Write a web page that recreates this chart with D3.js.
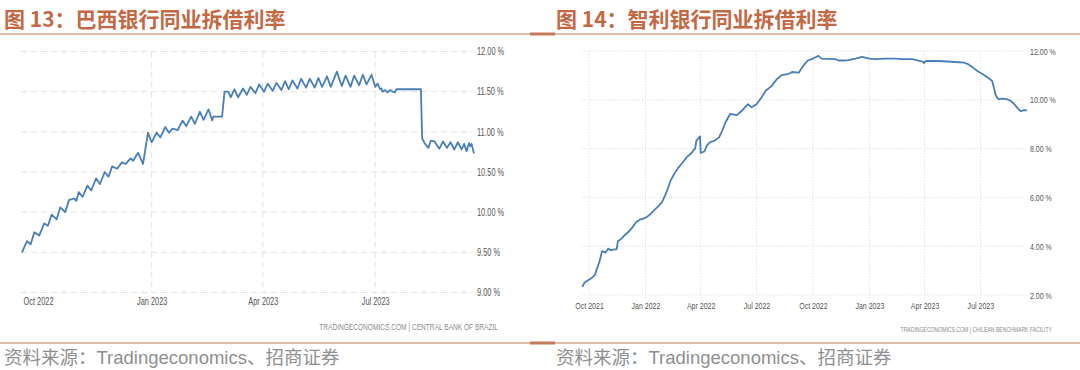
<!DOCTYPE html>
<html>
<head>
<meta charset="utf-8">
<script src="https://cdn.jsdelivr.net/npm/d3@7"></script>
<style>
  body { margin: 0; background: #fff; }
  svg text { font-family: "Liberation Sans", Arial, sans-serif; }
</style>
</head>
<body>
<svg id="chart" width="1080" height="370"></svg>
<script>
// ---- data: Brazil interbank rate (%)
var brDates = ["2022-09-18","2022-09-22","2022-09-25","2022-09-28","2022-10-02","2022-10-06","2022-10-09","2022-10-12",
  "2022-10-16","2022-10-19","2022-10-23","2022-10-26","2022-10-30","2022-11-01","2022-11-03","2022-11-06","2022-11-10",
  "2022-11-13","2022-11-17","2022-11-20","2022-11-24","2022-11-27","2022-11-30","2022-12-04","2022-12-08","2022-12-11",
  "2022-12-15","2022-12-17","2022-12-21","2022-12-25","2022-12-29","2023-01-01","2023-01-05","2023-01-08","2023-01-12",
  "2023-01-15","2023-01-18","2023-01-22","2023-01-26","2023-01-29","2023-02-02","2023-02-05","2023-02-09","2023-02-12",
  "2023-02-16","2023-02-19","2023-02-20","2023-02-27","2023-03-01","2023-03-04","2023-03-06","2023-03-09","2023-03-12",
  "2023-03-16","2023-03-19","2023-03-22","2023-03-26","2023-03-29","2023-04-02","2023-04-05","2023-04-09","2023-04-12",
  "2023-04-16","2023-04-19","2023-04-22","2023-04-25","2023-04-29","2023-05-02","2023-05-06","2023-05-09","2023-05-13",
  "2023-05-16","2023-05-19","2023-05-23","2023-05-26","2023-05-31","2023-06-01","2023-06-04","2023-06-07","2023-06-11",
  "2023-06-14","2023-06-18","2023-06-21","2023-06-24","2023-06-28","2023-07-01","2023-07-03","2023-07-05","2023-07-06",
  "2023-07-07","2023-07-09","2023-07-11","2023-07-13","2023-07-14","2023-07-17","2023-07-18","2023-08-07","2023-08-08",
  "2023-08-10","2023-08-13","2023-08-15","2023-08-18","2023-08-22","2023-08-25","2023-08-28","2023-08-31","2023-09-03",
  "2023-09-06","2023-09-09","2023-09-11","2023-09-13","2023-09-15","2023-09-16","2023-09-17","2023-09-19"];
var brValues = [9.50,9.64,9.60,9.75,9.71,9.86,9.83,9.97,
  9.91,10.06,10.00,10.15,10.17,10.14,10.25,10.19,10.33,
  10.27,10.42,10.35,10.50,10.44,10.57,10.54,10.62,10.60,
  10.67,10.64,10.74,10.60,10.99,10.87,10.99,10.93,11.06,
  10.99,11.04,11.02,11.14,11.07,11.19,11.10,11.25,11.15,
  11.28,11.14,11.19,11.19,11.50,11.50,11.43,11.53,11.43,
  11.54,11.46,11.56,11.48,11.59,11.50,11.60,11.51,11.61,
  11.52,11.63,11.53,11.64,11.54,11.66,11.55,11.66,11.55,
  11.67,11.56,11.69,11.56,11.75,11.70,11.57,11.70,11.56,
  11.70,11.58,11.71,11.59,11.71,11.56,11.60,11.53,11.54,
  11.50,11.52,11.49,11.52,11.51,11.49,11.53,11.53,10.92,
  10.86,10.80,10.89,10.88,10.79,10.88,10.80,10.87,10.78,
  10.87,10.78,10.85,10.76,10.86,10.82,10.85,10.73];
var brYTicks = [9, 9.5, 10, 10.5, 11, 11.5, 12];
var brXTicks = ["2022-10-01","2023-01-01","2023-04-01","2023-07-01"];
var brXLabels = ["Oct 2022","Jan 2023","Apr 2023","Jul 2023"];

// ---- data: Chile interbank rate (%)
var clDates = ["2021-09-20","2021-09-24","2021-09-30","2021-10-06","2021-10-11","2021-10-13","2021-10-17","2021-10-20",
  "2021-10-22","2021-10-28","2021-11-01","2021-11-05","2021-11-15","2021-11-17","2021-11-23","2021-11-28","2021-12-04",
  "2021-12-10","2021-12-17","2021-12-24","2022-01-01","2022-01-08","2022-01-15","2022-01-22","2022-01-28","2022-02-02",
  "2022-02-06","2022-02-11","2022-02-17","2022-02-23","2022-03-02","2022-03-09","2022-03-17","2022-03-23","2022-03-25",
  "2022-03-31","2022-04-01","2022-04-07","2022-04-11","2022-04-16","2022-04-24","2022-05-01","2022-05-06","2022-05-12",
  "2022-05-19","2022-05-30","2022-06-07","2022-06-17","2022-06-23","2022-07-01","2022-07-09","2022-07-16","2022-07-26",
  "2022-08-03","2022-08-11","2022-08-21","2022-08-28","2022-09-08","2022-09-13","2022-09-22","2022-10-01","2022-10-10",
  "2022-10-15","2022-11-06","2022-11-12","2022-11-20","2022-11-28","2022-12-09","2022-12-20","2023-01-01","2023-01-11",
  "2023-01-27","2023-02-12","2023-02-23","2023-03-12","2023-03-30","2023-03-31","2023-04-03","2023-04-25","2023-05-20",
  "2023-06-05","2023-06-11","2023-06-19","2023-06-26","2023-07-05","2023-07-13","2023-07-20","2023-07-23","2023-07-26",
  "2023-07-30","2023-08-06","2023-08-13","2023-08-19","2023-08-24","2023-08-30","2023-09-05","2023-09-10","2023-09-15"];
var clValues = [2.34,2.52,2.61,2.71,2.84,3.02,3.29,3.56,
  3.80,3.74,3.90,3.84,3.88,4.20,4.31,4.45,4.58,
  4.75,4.99,5.10,5.16,5.29,5.47,5.64,5.81,6.08,
  6.33,6.69,6.97,7.20,7.41,7.64,7.82,8.01,8.33,
  8.50,7.82,7.88,8.12,8.26,8.33,8.46,8.73,9.10,
  9.42,9.37,9.55,9.82,9.69,9.82,10.09,10.37,10.57,
  10.84,11.01,11.05,11.14,11.11,11.32,11.60,11.69,11.80,
  11.69,11.67,11.61,11.61,11.63,11.69,11.76,11.69,11.67,
  11.69,11.69,11.67,11.67,11.55,11.50,11.59,11.59,11.55,
  11.52,11.46,11.32,11.18,11.05,10.91,10.78,10.50,10.19,
  10.03,10.05,10.03,9.96,9.86,9.68,9.53,9.58,9.57];
var clYTicks = [2, 4, 6, 8, 10, 12];
var clXTicks = ["2021-10-01","2022-01-01","2022-04-01","2022-07-01","2022-10-01","2023-01-01","2023-04-01","2023-07-01"];
var clXLabels = ["Oct 2021","Jan 2022","Apr 2022","Jul 2022","Oct 2022","Jan 2023","Apr 2023","Jul 2023"];

var parse = d3.timeParse("%Y-%m-%d");
var svg = d3.select("#chart");
var titleColor = "#c36843", ruleColor = "#c57b58", lineColor = "#4a7fb5";

function drawPanel(p) {
  var g = svg.append("g");

  // heading and rules
  g.append("text").attr("x", p.titleX).attr("y", 27)
    .style("font-family", "'Noto Sans CJK SC', sans-serif")
    .style("font-size", "21px").style("font-weight", "bold")
    .attr("fill", titleColor).text(p.title);
  [34, 343].forEach(function (yy) {
    g.append("line").attr("x1", p.colL).attr("x2", p.colR).attr("y1", yy).attr("y2", yy)
      .attr("stroke", ruleColor).attr("stroke-width", 1.2);
    g.append("line").attr("x1", p.accL).attr("x2", p.accR).attr("y1", yy).attr("y2", yy)
      .attr("stroke", ruleColor).attr("stroke-width", 3);
  });
  g.append("text").attr("x", p.titleX).attr("y", 364)
    .style("font-family", "'Liberation Sans', 'Noto Sans CJK SC', sans-serif")
    .style("font-size", "18.5px").attr("fill", "#8f8f8f")
    .text("资料来源：Tradingeconomics、招商证券");

  var x = d3.scaleTime().domain(p.xDomain.map(parse)).range(p.xRange);
  var y = d3.scaleLinear().domain(p.yDomain).range(p.yRange);

  // grid
  g.append("g").selectAll("line").data(p.yTicks).enter().append("line")
    .attr("x1", p.gridL).attr("x2", p.gridR)
    .attr("y1", function (d) { return y(d); }).attr("y2", function (d) { return y(d); })
    .attr("stroke", p.gridColor).attr("stroke-dasharray", p.dash);
  g.append("g").selectAll("line").data(p.vTicks).enter().append("line")
    .attr("x1", function (d) { return x(parse(d)); }).attr("x2", function (d) { return x(parse(d)); })
    .attr("y1", y(p.yDomain[1])).attr("y2", p.vBottom)
    .attr("stroke", p.gridColor).attr("stroke-dasharray", p.dash);

  // axes
  var ya = g.append("g").attr("transform", "translate(" + p.labelX + ",0)")
    .call(d3.axisRight(y).tickValues(p.yTicks).tickSize(0).tickPadding(0)
      .tickFormat(function (d) { return d3.format(".2f")(d) + " %"; }));
  var xa = g.append("g").attr("transform", "translate(0," + p.xLabelTop + ")")
    .call(d3.axisBottom(x).tickValues(p.xTicks.map(parse)).tickSize(0).tickPadding(0)
      .tickFormat(function (d, i) { return p.xLabels[i]; }));
  [ya, xa].forEach(function (a) {
    a.select(".domain").remove();
    a.selectAll("text").attr("fill", "#555").attr("font-size", p.labelSize)
      .style("font-family", "'Liberation Sans', Arial, sans-serif")
      .attr("transform", "scale(" + p.squeeze + ",1)");
  });

  // series
  var pts = p.dates.map(function (d, i) { return { date: parse(d), value: p.values[i] }; });
  g.append("path").datum(pts)
    .attr("fill", "none").attr("stroke", lineColor).attr("stroke-width", 1.8)
    .attr("stroke-linejoin", "round")
    .attr("d", d3.line().x(function (d) { return x(d.date); }).y(function (d) { return y(d.value); }));

  // source note, squeezed to its width in the reference
  var src = g.append("text").attr("text-anchor", "end")
    .attr("font-size", p.srcSize).attr("fill", "#8c8c8c").text(p.source);
  var w = src.node().getComputedTextLength();
  src.attr("transform", "translate(" + p.srcR + "," + p.srcY + ") scale(" + (p.srcW / w) + ",1)");
}

drawPanel({
  title: "图 13：巴西银行同业拆借利率", titleX: 4,
  colL: 0, colR: 540, accL: 530, accR: 540,
  dates: brDates, values: brValues,
  xDomain: ["2022-09-18", "2023-09-19"], xRange: [22, 474],
  yDomain: [9, 12], yRange: [292.5, 51.5],
  yTicks: brYTicks, xTicks: brXTicks, xLabels: brXLabels, vTicks: brXTicks.slice(1),
  gridL: 21, gridR: 472, vBottom: 292.5, gridColor: "#e2e2e2", dash: "6,4",
  labelX: 477, xLabelTop: 298, labelSize: 10, squeeze: 0.74,
  source: "TRADINGECONOMICS.COM | CENTRAL BANK OF BRAZIL",
  srcR: 498, srcW: 179, srcY: 330, srcSize: 8.5
});

drawPanel({
  title: "图 14：智利银行同业拆借利率", titleX: 556,
  colL: 540, colR: 1080, accL: 540, accR: 555,
  dates: clDates, values: clValues,
  xDomain: ["2021-09-20", "2023-09-15"], xRange: [582.3, 1027],
  yDomain: [2, 12], yRange: [295, 51],
  yTicks: clYTicks, xTicks: clXTicks, xLabels: clXLabels, vTicks: clXTicks,
  gridL: 581.5, gridR: 1025, vBottom: 299, gridColor: "#e4e4e4", dash: "1.5,1.5",
  labelX: 1030, xLabelTop: 302, labelSize: 9.5, squeeze: 0.74,
  source: "TRADINGECONOMICS.COM | CHILEAN BENCHMARK FACILITY",
  srcR: 1052, srcW: 152, srcY: 331.5, srcSize: 6.5
});
</script>
</body>
</html>
